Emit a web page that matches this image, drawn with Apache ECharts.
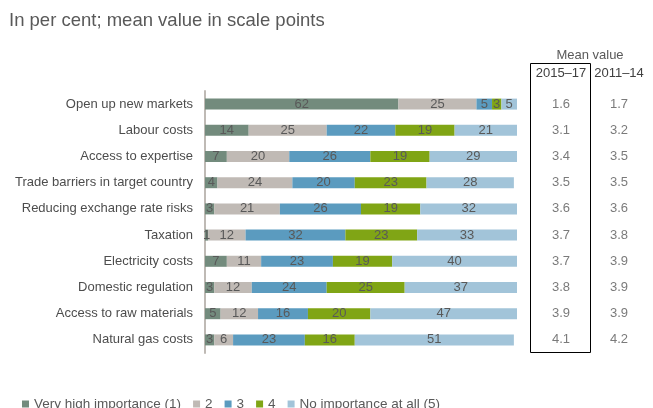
<!DOCTYPE html>
<html>
<head>
<meta charset="utf-8">
<script src="https://cdn.jsdelivr.net/npm/echarts@6/dist/echarts.min.js"></script>
<style>
  html, body { margin: 0; padding: 0; background: #fff; }
  #chart { width: 653px; height: 408px; }
</style>
</head>
<body>
<div id="chart"></div>
<script>
// categories, top to bottom
const categories = [
  "Open up new markets",
  "Labour costs",
  "Access to expertise",
  "Trade barriers in target country",
  "Reducing exchange rate risks",
  "Taxation",
  "Electricity costs",
  "Domestic regulation",
  "Access to raw materials",
  "Natural gas costs"
];
const seriesNames = ["Very high importance (1)", "2", "3", "4", "No importance at all (5)"];
const veryHigh = [62, 14, 7, 4, 3, 1, 7, 3, 5, 3];
const level2 = [25, 25, 20, 24, 21, 12, 11, 12, 12, 6];
const level3 = [5, 22, 26, 20, 26, 32, 23, 24, 16, 23];
const level4 = [3, 19, 19, 23, 19, 23, 19, 25, 20, 16];
const noImportance = [5, 21, 29, 28, 32, 33, 40, 37, 47, 51];
const mean1517 = [1.6, 3.1, 3.4, 3.5, 3.6, 3.7, 3.7, 3.8, 3.9, 4.1];
const mean1114 = [1.7, 3.2, 3.5, 3.5, 3.6, 3.8, 3.9, 3.9, 3.9, 4.2];
const periods = ["2015–17", "2011–14"];

const colors = ["#738b7d", "#c0bab5", "#5b9bbf", "#80a515", "#a2c4d9"];
const values = [veryHigh, level2, level3, level4, noImportance];
const font = "Liberation Sans";

const chart = echarts.init(document.getElementById("chart"));

const barSeries = values.map((d, i) => ({
  name: seriesNames[i],
  type: "bar",
  stack: "total",
  barWidth: 11,
  data: d,
  itemStyle: { color: colors[i] },
  label: {
    show: true,
    position: "inside",
    color: "#595959",
    fontSize: 13,
    fontFamily: font
  },
  animation: false
}));

const meanSeries = [mean1517, mean1114].map((d, col) => ({
  type: "scatter",
  xAxisIndex: 1,
  yAxisIndex: 1,
  symbolSize: 0,
  data: d.map((v, row) => [col, row, v]),
  label: {
    show: true,
    position: "inside",
    formatter: p => p.data[2].toFixed(1),
    color: "#595959",
    fontSize: 13,
    fontFamily: font
  },
  animation: false
}));

chart.setOption({
  title: {
    text: "In per cent; mean value in scale points",
    left: 4,
    top: 6,
    textStyle: { fontSize: 18.5, fontWeight: "normal", color: "#595959", fontFamily: font }
  },
  legend: {
    data: seriesNames,
    left: 17,
    top: 392,
    icon: "rect",
    itemWidth: 7,
    itemHeight: 7,
    itemGap: 12,
    textStyle: { fontSize: 13.5, color: "#595959", fontFamily: font }
  },
  grid: [
    { left: 205, width: 312, top: 91, height: 262 },
    { left: 532, width: 116, top: 91, height: 262 }
  ],
  xAxis: [
    { type: "value", gridIndex: 0, min: 0, max: 100, show: false },
    {
      type: "category",
      gridIndex: 1,
      data: periods,
      position: "top",
      name: "Mean value",
      nameLocation: "middle",
      nameGap: 29,
      nameTextStyle: { fontSize: 13, color: "#595959", fontFamily: font },
      axisLine: { show: false },
      axisTick: { show: false },
      axisLabel: { interval: 0, margin: 11, fontSize: 13, color: "#404040", fontFamily: font }
    }
  ],
  yAxis: [
    {
      type: "category",
      gridIndex: 0,
      data: categories,
      inverse: true,
      axisLine: { lineStyle: { color: "#bfbab5", width: 2 } },
      axisTick: { show: false },
      axisLabel: { margin: 12, fontSize: 13, color: "#4d4d4d", fontFamily: font }
    },
    { type: "category", gridIndex: 1, data: categories, inverse: true, show: false }
  ],
  graphic: [
    {
      type: "rect",
      shape: { x: 530.5, y: 63.5, width: 60, height: 289 },
      style: { fill: "none", stroke: "#000", lineWidth: 1 }
    }
  ],
  series: [...barSeries, ...meanSeries]
});
</script>
</body>
</html>
